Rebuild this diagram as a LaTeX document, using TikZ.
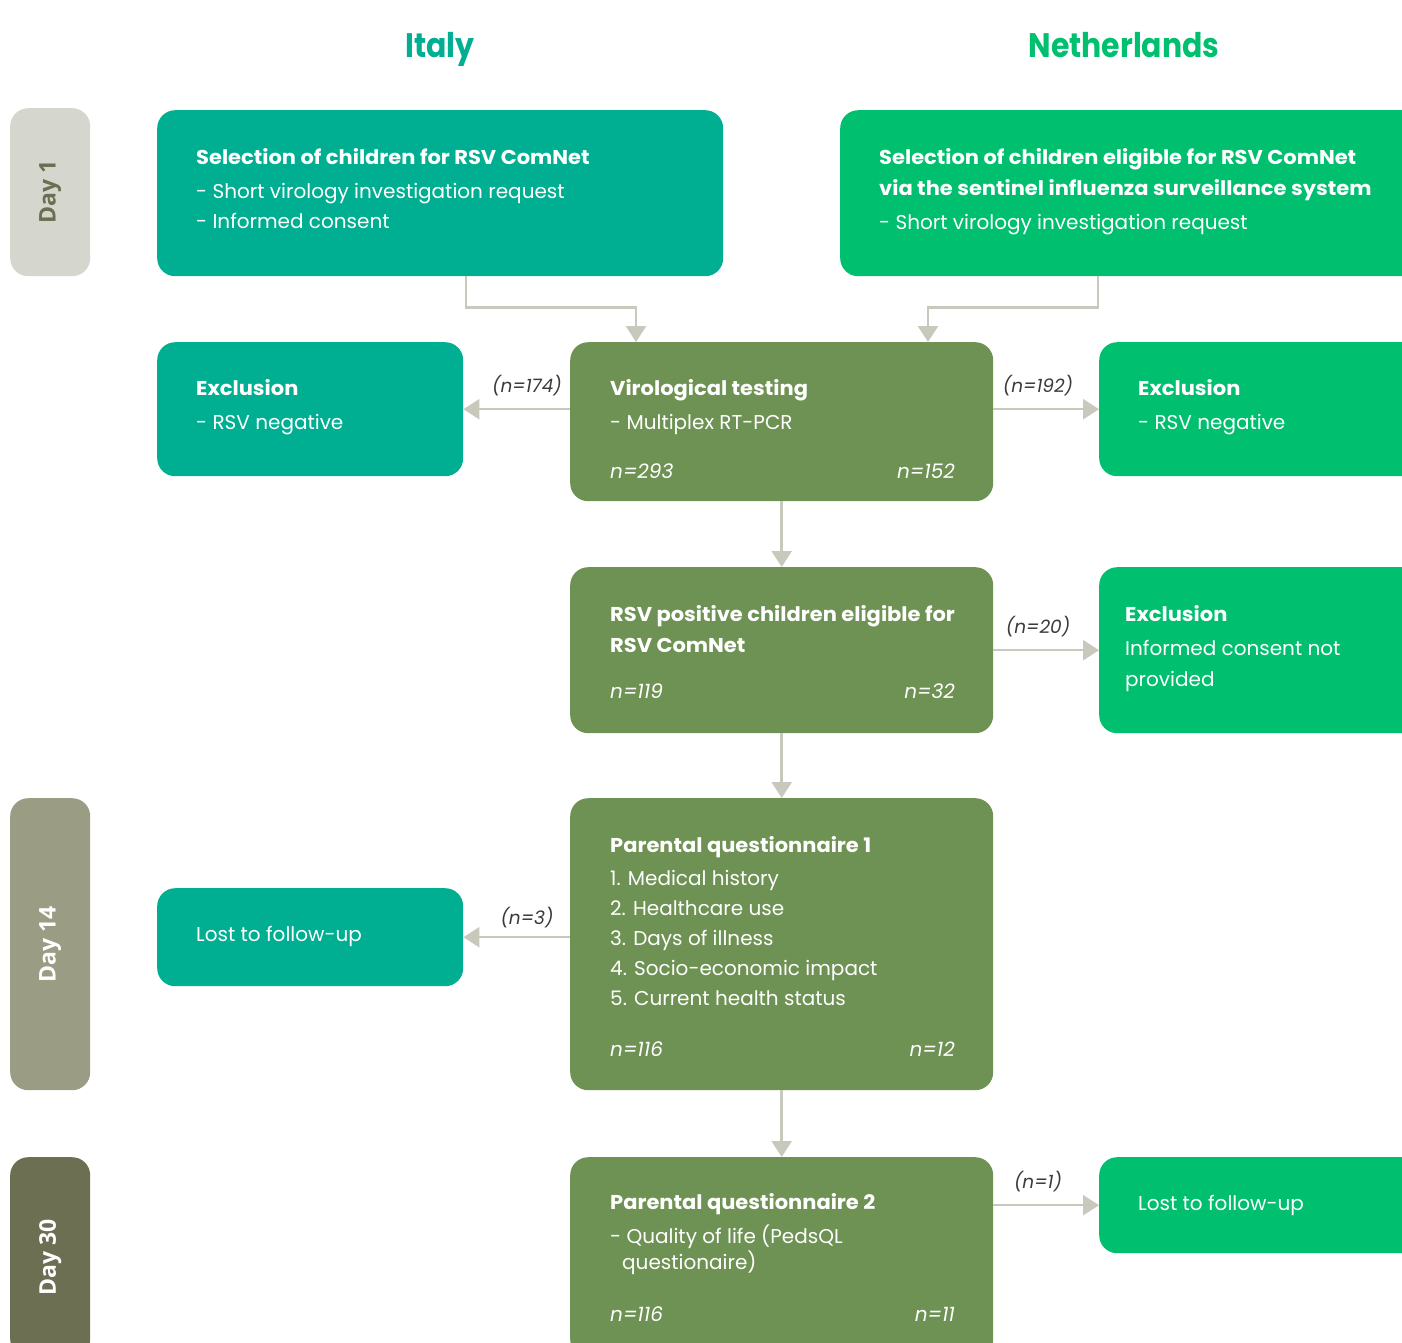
\documentclass[tikz,border=0pt]{standalone}
\usepackage{fontspec}
\usetikzlibrary{arrows.meta}
\newfontfamily\gfont{Poppins}[BoldFeatures={FakeStretch=1.05}]
\newfontfamily\tfont{Poppins}[FakeStretch=0.88]
\newfontfamily\dfont{Open Sans}
\definecolor{itteal}{HTML}{00AF91}
\definecolor{nlgreen}{HTML}{00BF6F}
\definecolor{olive}{HTML}{6E9253}
\definecolor{arrowgray}{HTML}{C8C9BC}
\definecolor{dayA}{HTML}{D5D6CD}
\definecolor{dayAtext}{HTML}{6B6F52}
\definecolor{dayB}{HTML}{9B9C84}
\definecolor{dayC}{HTML}{6C6F51}
\definecolor{lblgray}{HTML}{3A3A3A}
\tikzset{
  box/.style={rounded corners=18pt, inner sep=0pt, anchor=north west, draw=none},
  daybox/.style={box, minimum width=80pt},
  daytext/.style={rotate=90, inner sep=0pt, font=\dfont\bfseries\fontsize{23}{27}\selectfont},
  txt/.style={anchor=base west, inner sep=0pt, text=white, font=\gfont\fontsize{20}{30}\selectfont},
  nval/.style={inner sep=0pt, text=white, font=\gfont\itshape\fontsize{20}{30}\selectfont},
  lbl/.style={inner sep=0pt, text=lblgray, font=\gfont\itshape\fontsize{18.5}{22}\selectfont},
  title/.style={anchor=base, inner sep=0pt, font=\tfont\bfseries\fontsize{34}{40}\selectfont},
  arr/.style={draw=arrowgray, line width=2.5pt, -{Triangle[length=16pt,width=20pt]}},
  conn/.style={draw=arrowgray, line width=2.5pt}
}
\newcommand{\lines}[1]{\begin{tabular}[t]{@{}l@{}}#1\end{tabular}}
\begin{document}
\begin{tikzpicture}[x=1pt,y=-1pt]
\useasboundingbox (0,0) rectangle (1402,1342);
\clip (0,0) rectangle (1402,1342);
% titles
\node[title, text=itteal] (tIt) at (440,57) {Italy};
\node[title, text=nlgreen] (tNL) at (1124,57) {Netherlands};
% day boxes
\node[daybox, fill=dayA, minimum height=168pt] (d1) at (10,108) {};
\node[daytext, text=dayAtext] (d1t) at (d1.center) {Day 1};
\node[daybox, fill=dayB, minimum height=292pt] (d14) at (10,798) {};
\node[daytext, text=white] (d14t) at (d14.center) {Day 14};
\node[daybox, fill=dayC, minimum height=200pt] (d30) at (10,1157) {};
\node[daytext, text=white] (d30t) at (d30.center) {Day 30};
% main boxes
\node[box, fill=itteal, minimum width=566pt, minimum height=166pt] (itsel) at (157,110) {};
\node[box, fill=nlgreen, minimum width=580pt, minimum height=166pt] (nlsel) at (840,110) {};
\node[box, fill=itteal, minimum width=306pt, minimum height=134pt] (exIt) at (157,342) {};
\node[box, fill=olive, minimum width=423pt, minimum height=159pt] (viro) at (570,342) {};
\node[box, fill=nlgreen, minimum width=321pt, minimum height=134pt] (exNL) at (1099,342) {};
\node[box, fill=olive, minimum width=423pt, minimum height=166pt] (pos) at (570,567) {};
\node[box, fill=nlgreen, minimum width=321pt, minimum height=166pt] (exNL2) at (1099,567) {};
\node[box, fill=olive, minimum width=423pt, minimum height=292pt] (q1) at (570,798) {};
\node[box, fill=itteal, minimum width=306pt, minimum height=98pt] (lostIt) at (157,888) {};
\node[box, fill=olive, minimum width=423pt, minimum height=200pt] (q2) at (570,1157) {};
\node[box, fill=nlgreen, minimum width=321pt, minimum height=96pt] (lostNL) at (1099,1157) {};
% texts
\node[txt] (itselT) at (196,164) {\lines{\textbf{Selection of children for RSV ComNet}\\[4pt]- Short virology investigation request\\- Informed consent}};
\node[txt] (nlselT) at (879,164) {\lines{\textbf{Selection of children eligible for RSV ComNet}\\[1pt]\textbf{via the sentinel influenza surveillance system}\\[4pt]- Short virology investigation request}};
\node[txt] (exItT) at (196,395) {\lines{\textbf{Exclusion}\\[4pt]- RSV negative}};
\node[txt] (viroT) at (610,395) {\lines{\textbf{Virological testing}\\[4pt]- Multiplex RT-PCR}};
\node[nval, anchor=base west] (viroA) at (610,478) {n=293};
\node[nval, anchor=base east] (viroB) at (955,478) {n=152};
\node[txt] (exNLT) at (1138,395) {\lines{\textbf{Exclusion}\\[4pt]- RSV negative}};
\node[txt] (posT) at (610,621) {\lines{\textbf{RSV positive children eligible for}\\[1pt]\textbf{RSV ComNet}}};
\node[nval, anchor=base west] (posA) at (610,698) {n=119};
\node[nval, anchor=base east] (posB) at (955,698) {n=32};
\node[txt] (exNL2T) at (1125,621) {\lines{\textbf{Exclusion}\\[4pt]Informed consent not\\[1pt]provided}};
\node[txt] (q1T) at (610,852) {\lines{\textbf{Parental questionnaire 1}\\[3pt]1. Medical history\\2. Healthcare use\\3. Days of illness\\4. Socio-economic impact\\5. Current health status}};
\node[nval, anchor=base west] (q1A) at (610,1056) {n=116};
\node[nval, anchor=base east] (q1B) at (955,1056) {n=12};
\node[txt] (lostItT) at (196,941) {Lost to follow-up};
\node[txt] (q2T) at (610,1209) {\lines{\textbf{Parental questionnaire 2}\\[4pt]- Quality of life (PedsQL\\[-4pt]\hspace*{12pt}questionaire)}};
\node[nval, anchor=base west] (q2A) at (610,1321) {n=116};
\node[nval, anchor=base east] (q2B) at (955,1321) {n=11};
\node[txt] (lostNLT) at (1138,1210) {Lost to follow-up};
% connectors
\draw[arr] ([xshift=309pt]itsel.south west) -- ++(0,31) -| ([xshift=66pt]viro.north west);
\draw[arr] ([xshift=258pt]nlsel.south west) -- ++(0,31) -| ([xshift=358pt]viro.north west);
\draw[arr] (viro.west |- exIt.east) -- (exIt.east);
\draw[arr] (viro.east |- exNL.west) -- (exNL.west);
\draw[arr] (viro.south) -- (pos.north);
\draw[arr] (pos.east) -- (exNL2.west);
\draw[arr] (pos.south) -- (q1.north);
\draw[arr] (q1.west |- lostIt.east) -- (lostIt.east);
\draw[arr] (q1.south) -- (q2.north);
\draw[arr] (q2.east |- lostNL.west) -- (lostNL.west);
% labels
\node[lbl] (l174) at (527,386) {(n=174)};
\node[lbl] (l192) at (1038,386) {(n=192)};
\node[lbl] (l20) at (1038,627) {(n=20)};
\node[lbl] (l3) at (527,918) {(n=3)};
\node[lbl] (l1) at (1038,1182) {(n=1)};
\end{tikzpicture}
\end{document}
